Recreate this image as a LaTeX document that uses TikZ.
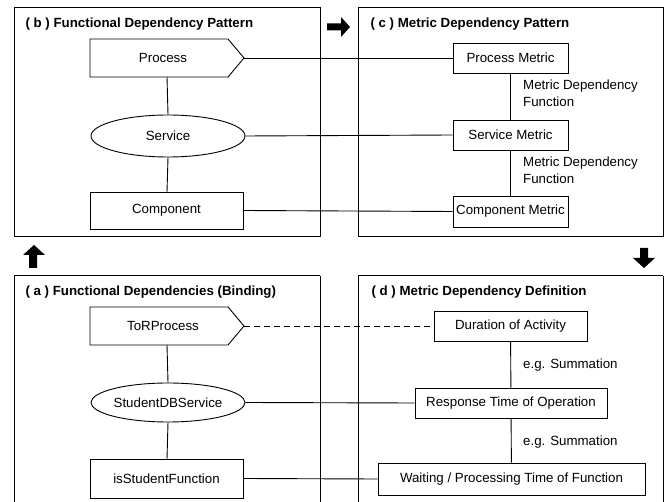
\documentclass[tikz,border=0pt]{standalone}
\usepackage{fontspec}
\setmainfont{Liberation Sans}
\usetikzlibrary{shapes.geometric,shapes.symbols}
\begin{document}
\begin{tikzpicture}[x=1pt,y=-1pt,
  every node/.style={font=\fontsize{13.3}{15}\selectfont},
  panel/.style={draw, line width=1pt},
  ttl/.style={anchor=base west, font=\fontsize{13.3}{15}\selectfont\bfseries},
  box/.style={draw, line width=0.9pt, rectangle, inner sep=0pt, fill=white},
  pent/.style={draw, line width=0.9pt, fill=white},
  conn/.style={line width=0.9pt},
  lbl/.style={anchor=north west, align=left, inner sep=0pt, font=\fontsize{13.3}{17}\selectfont},
  blk/.style={fill=black, draw=none}]
\useasboundingbox[fill=white] (0,0) rectangle (667,502);
% panels
\draw[panel] (14,8) rectangle (320,237);
\draw[panel] (358,8) rectangle (663,237);
\draw[panel] (14,276) -- (14,502) (320,276) -- (320,502) (14,276) -- (320,276);
\draw[panel] (358,276) -- (358,502) (663,276) -- (663,502) (358,276) -- (663,276);
\node[ttl] (tb) at (22,28) {( b ) Functional Dependency Pattern};
\node[ttl] (tc) at (367,28) {( c ) Metric Dependency Pattern};
\node[ttl] (ta) at (22,296) {( a ) Functional Dependencies (Binding)};
\node[ttl] (td) at (368,296) {( d ) Metric Dependency Definition};
% block arrows
\fill[blk] (327,23.5) -- (341,23.5) -- (341,17) -- (350,27) -- (341,37) -- (341,30.5) -- (327,30.5) -- cycle;
\fill[blk] (640,248) -- (648,248) -- (648,258) -- (655,258) -- (644,268) -- (633,258) -- (640,258) -- cycle;
\fill[blk] (29,268) -- (37,268) -- (37,255) -- (45,255) -- (34,245) -- (23,255) -- (29,255) -- cycle;
% panel b
\draw[pent] (90,39) -- (228,39) -- (244,58) -- (228,77) -- (90,77) -- cycle;
\node (proc) at (163,58) {Process};
\coordinate (proctip) at (244,58);
\node[draw, line width=0.9pt, ellipse, minimum width=154pt, minimum height=42pt, inner sep=0pt] (serv) at (168,136) {Service};
\node[box, minimum width=153pt, minimum height=37pt] (comp) at (166.5,210.5) {Component};
\draw[conn] (167,77) -- (serv.north);
\draw[conn] (serv.south) -- (167,192);
% panel c
\node[box, minimum width=115pt, minimum height=30pt] (pm) at (510.5,58) {Process Metric};
\node[box, minimum width=115pt, minimum height=30pt] (sm) at (510.5,135) {Service Metric};
\node[box, minimum width=115pt, minimum height=31pt] (cm) at (510.5,211.5) {Component Metric};
\draw[conn] (pm) -- (sm);
\draw[conn] (sm) -- (cm);
\node[lbl] (l1) at (523,80) {Metric Dependency\\Function};
\node[lbl] (l2) at (523,157) {Metric Dependency\\Function};
\draw[conn] (proctip) -- (pm.west);
\draw[conn] (serv.east) -- (sm.west);
\draw[conn] (comp.east) -- (cm.west);
% panel a
\draw[pent] (90,307) -- (228,307) -- (244,326) -- (228,345) -- (90,345) -- cycle;
\node (tor) at (163,326) {ToRProcess};
\coordinate (tortip) at (244,326);
\node[draw, line width=0.9pt, ellipse, minimum width=154pt, minimum height=39pt, inner sep=0pt] (sdb) at (168,402.5) {StudentDBService};
\node[box, minimum width=153pt, minimum height=39pt] (isf) at (166.5,478.5) {isStudentFunction};
\draw[conn] (167,345) -- (sdb.north);
\draw[conn] (sdb.south) -- (167,459);
% panel d
\node[box, minimum width=153pt, minimum height=30pt] (doa) at (510.5,326) {Duration of Activity};
\node[box, minimum width=192pt, minimum height=30pt] (rto) at (511,403) {Response Time of Operation};
\node[box, minimum width=267pt, minimum height=32pt] (wpt) at (511.5,479) {Waiting / Processing Time of Function};
\draw[conn] (doa) -- (rto);
\draw[conn] (rto) -- (wpt);
\node[lbl, anchor=west] (s1) at (523,365) {e.g. Summation};
\node[lbl, anchor=west] (s2) at (523,442) {e.g. Summation};
\draw[conn, dashed, dash pattern=on 6pt off 4pt] (tortip) -- (doa.west);
\draw[conn] (sdb.east) -- (rto.west);
\draw[conn] (isf.east) -- (wpt.west);
\end{tikzpicture}
\end{document}
